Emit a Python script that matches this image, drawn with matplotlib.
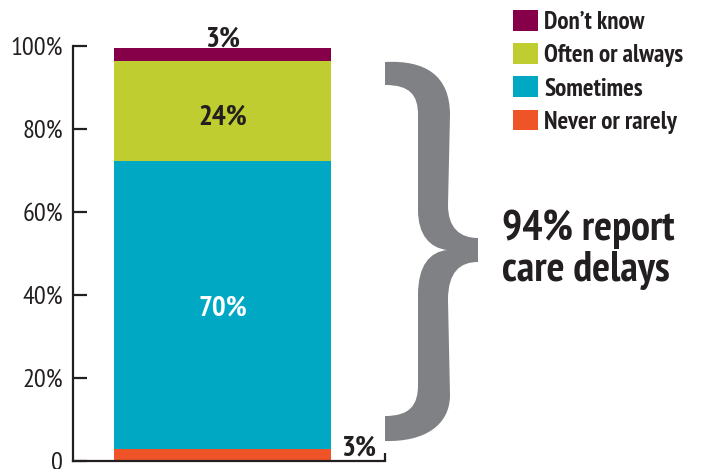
import numpy as np
import matplotlib
matplotlib.use('Agg')
import matplotlib.pyplot as plt
from matplotlib.patches import Patch, PathPatch
from matplotlib.path import Path

plt.rcParams['font.family'] = ['PT Sans Narrow', 'DejaVu Sans']

# data (bottom -> top)
categories = ['Never or rarely', 'Sometimes', 'Often or always', "Don\u2019t know"]
values = [2.8, 69.5, 24.0, 3.2]
labels = ['3%', '70%', '24%', '3%']
colors = ['#ee5428', '#00a8c4', '#bfcd31', '#850048']
ytick_vals = [0, 20, 40, 60, 80, 100]
ytick_labels = ['0', '20%', '40%', '60%', '80%', '100%']

W, H = 703, 469
fig = plt.figure(figsize=(W / 100, H / 100), dpi=100)
ax = fig.add_axes([73 / W, 1 - 460.5 / H, (385 - 73) / W, (460.5 - 46) / H])

dark = '#231f20'
bottom = 0
for cat, v, c in zip(categories, values, colors):
    ax.bar(0, v, width=0.7, bottom=bottom, color=c, label=cat)
    bottom += v

ax.set_xlim(-0.482, 0.524)
ax.set_ylim(0, 100)
ax.set_yticks(ytick_vals)
ax.set_yticklabels(ytick_labels)
ax.set_xticks([0.524])
ax.set_xticklabels([''])
for s in ['top', 'right']:
    ax.spines[s].set_visible(False)
for s in ['left', 'bottom']:
    ax.spines[s].set_color(dark)
    ax.spines[s].set_linewidth(1.6)
ax.tick_params(axis='y', direction='in', length=10, width=1.6, color=dark,
               labelsize=19, labelcolor=dark, pad=7)
ax.tick_params(axis='x', direction='in', length=6, width=1.6, color=dark)

# value labels
ax.text(0, 99.9, labels[3], ha='center', va='baseline', fontsize=21,
        fontweight='bold', color=dark)
mid_green = values[0] + values[1] + values[2] / 2
ax.text(0, mid_green - 3.3, labels[2], ha='center', va='baseline', fontsize=21,
        fontweight='bold', color=dark)
mid_teal = values[0] + values[1] / 2
ax.text(0, mid_teal - 2.5, labels[1], ha='center', va='baseline', fontsize=21,
        fontweight='bold', color='white')
ax.text(0.438, 1.3, labels[0], ha='center', va='baseline', fontsize=21,
        fontweight='bold', color=dark, clip_on=False)

# legend (top to bottom)
handles = [Patch(facecolor=c, edgecolor='none') for c in colors[::-1]]
leg = fig.legend(handles, categories[::-1], loc='upper left',
                 bbox_to_anchor=(513 / W, 1 - 10 / H), frameon=False,
                 fontsize=18, handlelength=1.0, handleheight=0.9,
                 handletextpad=0.25, labelspacing=0.37, borderpad=0,
                 borderaxespad=0)
for t in leg.get_texts():
    t.set_fontweight('bold')
    t.set_color(dark)

# brace
def px(x, y):
    return (x / W, 1 - y / H)

M, C, L = Path.MOVETO, Path.CURVE4, Path.LINETO
pts = [
    (385, 62), (425, 60), (450, 75), (450, 115),
    (448, 205), (448, 228), (460, 238), (478, 238),
    (478, 262), (460, 262), (448, 272), (448, 300),
    (450, 395), (450, 425), (425, 442), (385, 441),
    (385, 416), (410, 416), (418, 405), (418, 385),
    (418, 295), (418, 265), (430, 252), (447, 250),
    (430, 248), (418, 235), (418, 210),
    (418, 115), (418, 95), (410, 85), (385, 85),
    (385, 62),
]
codes = [M, C, C, C,
         L, C, C, C,
         L, C, C, C,
         L, C, C, C,
         L, C, C, C,
         L, C, C, C,
         C, C, C,
         L, C, C, C,
         Path.CLOSEPOLY]
brace = Path([px(x, y) for x, y in pts], codes)
fig.add_artist(PathPatch(brace, facecolor='#808184', edgecolor='none',
                         transform=fig.transFigure))

fig.text(502 / W, 1 - 240 / H, '94% report', fontsize=30.5, fontweight='bold',
         color=dark, va='baseline', ha='left')
fig.text(502 / W, 1 - 281 / H, 'care delays', fontsize=30.5, fontweight='bold',
         color=dark, va='baseline', ha='left')

fig.savefig('out.png', dpi=100)
